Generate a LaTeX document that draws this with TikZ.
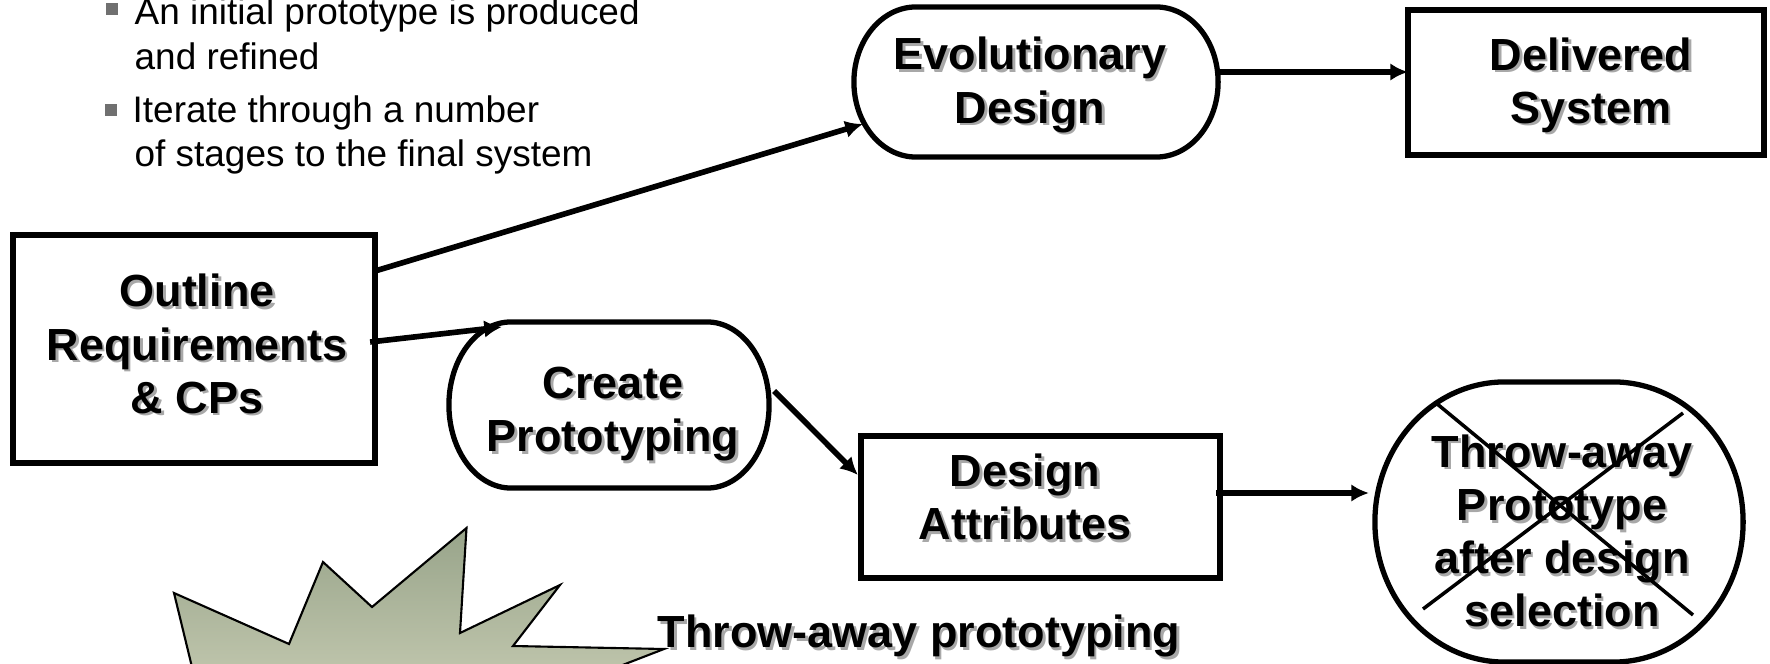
\documentclass[tikz,border=0pt]{standalone}
\usepackage{fontspec}
\setmainfont{Liberation Sans}
\usetikzlibrary{arrows.meta,calc}

\definecolor{burstTop}{RGB}{152,164,138}
\definecolor{burstBottom}{RGB}{198,203,178}
\definecolor{bulletgray}{RGB}{112,112,112}
\definecolor{shadowgray}{RGB}{168,168,168}

% frame with elliptical corners around a (text-free) node: node, x radius, y radius
\newcommand\ovalframe[3]{%
  \draw[frame] ($(#1.north west)+(0pt,-#3)$)
    arc[start angle=180,end angle=90,x radius=#2,y radius=#3]
    -- ($(#1.north east)+(-#2,0pt)$)
    arc[start angle=90,end angle=0,x radius=#2,y radius=#3]
    -- ($(#1.south east)+(0pt,#3)$)
    arc[start angle=0,end angle=-90,x radius=#2,y radius=#3]
    -- ($(#1.south west)+(#2,0pt)$)
    arc[start angle=-90,end angle=-180,x radius=#2,y radius=#3]
    -- cycle;
}

% bold label with a soft grey drop shadow: name, position, text
\newcommand\shadowtext[3]{%
  \node[lbl, text=shadowgray] (#1-shadow) at ($(#2)+(2.5,2.5)$) {#3};
  \node[lbl] (#1) at (#2) {#3};
}

\begin{document}
\begin{tikzpicture}[x=0.01cm,y=-0.01cm,
  frame/.style={line width=1.5pt},
  shapebox/.style={rectangle, inner sep=0pt, outer sep=0pt},
  lbl/.style={font=\bfseries\fontsize{12.8}{15.1}\selectfont, align=center, inner sep=0pt, outer sep=0pt},
  arr/.style={line width=1.6pt, -{Latex[length=5pt,width=5pt]}},
  bul/.style={font=\fontsize{10.5}{12.6}\selectfont, anchor=base west, inner sep=0pt},
  bulmark/.style={fill=bulletgray, inner sep=0pt, minimum size=3.3pt},
]
\useasboundingbox (0,0) rectangle (1770,664);

% bullet list
\node[bulmark] (m1) at (112,9) {};
\node[bul] (t1a) at (134,25) {An initial prototype is produced};
\node[bul] (t1b) at (134,70) {and refined};
\node[bulmark] (m2) at (111,110) {};
\node[bul] (t2a) at (132,123) {Iterate through a number};
\node[bul] (t2b) at (134,167) {of stages to the final system};

% starburst
\begin{scope}
  \clip (0,0) rectangle (1770,664);
  \draw[line width=0.6pt, top color=burstTop, bottom color=burstBottom]
    (174,593) -- (289,644) -- (323,562) -- (372,607) -- (466.5,528)
    -- (460,633) -- (560,585) -- (513,646) -- (664,649) -- (532,700)
    -- (200,700) -- cycle;
\end{scope}
\shadowtext{tap}{919,636}{Throw-away prototyping}

% shapes
\node[shapebox, draw, line width=1.5pt, minimum width=3.62cm, minimum height=2.28cm] (out) at (194,349) {};
\node[shapebox, minimum width=3.64cm, minimum height=1.50cm] (evo) at (1036,82) {};
\node[shapebox, draw, line width=1.5pt, minimum width=3.56cm, minimum height=1.45cm] (del) at (1586,82.5) {};
\node[shapebox, minimum width=3.20cm, minimum height=1.66cm] (cre) at (609,405) {};
\node[shapebox, draw, line width=1.5pt, minimum width=3.59cm, minimum height=1.42cm] (des) at (1040.5,507) {};
\node[shapebox, minimum width=3.68cm, minimum height=2.80cm] (thr) at (1559,522) {};
\ovalframe{evo}{0.62cm}{0.75cm}
\ovalframe{cre}{0.62cm}{0.83cm}
\ovalframe{thr}{1.3cm}{1.4cm}

% labels
\shadowtext{out-label}{197,344}{Outline\\Requirements\\\& CPs}
\shadowtext{evo-label}{1030,85}{Evolutionary\\Design}
\shadowtext{del-label}{1591,85}{Delivered\\System}
\shadowtext{cre-label}{613,414}{Create\\Prototyping}
\shadowtext{des-label}{1025,497}{Design\\Attributes}
\shadowtext{thr-label}{1562,531}{Throw-away\\Prototype\\after design\\selection}

% crossing-out of the throw-away prototype
\draw[line width=1pt] ($(thr.center)+(-123,-119)$) -- ($(thr.center)+(134,93)$);
\draw[line width=1pt] ($(thr.center)+(124,-109)$) -- ($(thr.center)+(-136,87)$);

% connectors
\draw[arr] ($(out.east)+(0,-78)$) -- ($(evo.west)+(9,42)$);
\draw[arr] ($(out.east)+(-5,-7)$) -- ($(cre.north west)+(53,5)$);
\draw[arr] ($(evo.east)+(0,-10)$) -- ($(del.west)+(0,-10.5)$);
\draw[arr] ($(cre.east)+(5,-14)$) -- ($(des.west)+(-3,-32)$);
\draw[arr] ($(des.east)+(-4,-14)$) -- ($(thr.west)+(-6,-29)$);
\end{tikzpicture}
\end{document}
